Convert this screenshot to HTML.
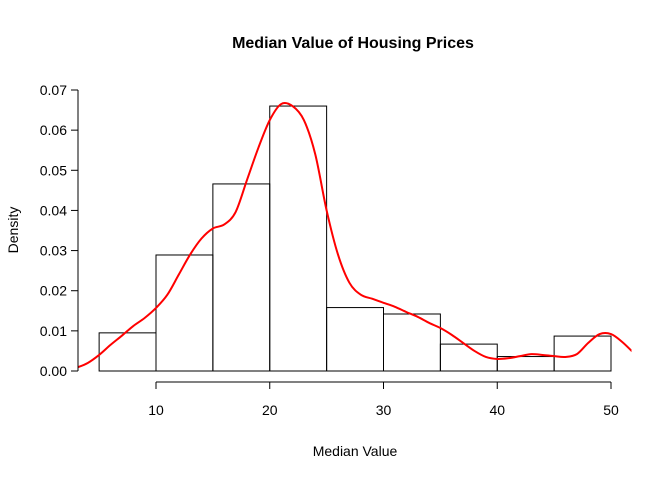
<!DOCTYPE html>
<html><head><meta charset="utf-8"><style>
body{margin:0;background:#fff}
svg text{font-family:"Liberation Sans",Arial,sans-serif;fill:#000}
</style></head><body>
<svg id="chart" width="672" height="480" xmlns="http://www.w3.org/2000/svg">
<defs><clipPath id="clip"><rect x="78.5" y="60" width="553" height="330"/></clipPath></defs>
<text x="353" y="48" font-size="16" font-weight="bold" text-anchor="middle">Median Value of Housing Prices</text>
<text x="355" y="456" font-size="14" text-anchor="middle">Median Value</text>
<text transform="translate(18,230) rotate(-90)" font-size="14" text-anchor="middle">Density</text>
<g id="bars"></g><g id="axes"></g><g id="curve" clip-path="url(#clip)"></g>
</svg>
<script>
const binEdges=[5,10,15,20,25,30,35,40,45,50];
const binDensity=[0.0095,0.0289,0.0466,0.0660,0.0158,0.0142,0.0067,0.0036,0.0087];
const xTicks=[10,20,30,40,50];
const yTicks=[0,0.01,0.02,0.03,0.04,0.05,0.06,0.07];
const yTickLabels=["0.00","0.01","0.02","0.03","0.04","0.05","0.06","0.07"];
const densX=[3,4,5,6,7,8,9,10,11,12,13,14,15,16,17,18,19,20,21,22,23,24,25,26,27,28,29,30,31,32,33,34,35,36,37,38,39,40,41,42,43,44,45,46,47,48,49,50,51,52,53];
const densY=[0.0008,0.002,0.004,0.0065,0.0088,0.0112,0.0132,0.0157,0.019,0.024,0.029,0.033,0.0355,0.0365,0.0396,0.0476,0.0556,0.0625,0.0665,0.066,0.0625,0.054,0.040,0.029,0.022,0.019,0.018,0.017,0.016,0.0147,0.0135,0.012,0.0107,0.009,0.007,0.005,0.0035,0.003,0.0032,0.0037,0.0042,0.004,0.0037,0.0035,0.0042,0.007,0.0092,0.0092,0.0072,0.0045,0.002];
const NS="http://www.w3.org/2000/svg";
const sx=v=>42.25+v*11.375, sy=v=>371-v*4014.3;
function mk(t,a,p){const e=document.createElementNS(NS,t);for(const k in a)e.setAttribute(k,a[k]);p.appendChild(e);return e;}
const bars=document.getElementById('bars');
binDensity.forEach((d,i)=>{
 const r=mk('rect',{x:sx(binEdges[i]),y:sy(d),width:sx(binEdges[i+1])-sx(binEdges[i]),height:sy(0)-sy(d),fill:'none',stroke:'#000','stroke-width':1},bars);
 
 
});
const ax=document.getElementById('axes');
const xl=mk('line',{x1:sx(xTicks[0]),x2:sx(xTicks[xTicks.length-1]),y1:382,y2:382,stroke:'#000'},ax);


xTicks.forEach(v=>{
 mk('line',{x1:sx(v),x2:sx(v),y1:382,y2:389,stroke:'#000'},ax);
 const t=mk('text',{x:sx(v),y:415,'font-size':14,'text-anchor':'middle'},ax);t.textContent=v;
 
 
});
const yl=mk('line',{x1:78,x2:78,y1:sy(yTicks[0]),y2:sy(yTicks[yTicks.length-1]),stroke:'#000'},ax);


yTicks.forEach((v,i)=>{
 mk('line',{x1:71,x2:78,y1:sy(v),y2:sy(v),stroke:'#000'},ax);
 const t=mk('text',{x:67,y:sy(v)+5,'font-size':14,'text-anchor':'end'},ax);t.textContent=yTickLabels[i];
 
 
});
const P=densX.map((x,i)=>[sx(x),sy(densY[i])]);
let d='M'+P[0][0]+','+P[0][1];
for(let i=0;i<P.length-1;i++){
 const p0=P[i-1]||P[i],p1=P[i],p2=P[i+1],p3=P[i+2]||P[i+1];
 d+=` C${p1[0]+(p2[0]-p0[0])/6},${p1[1]+(p2[1]-p0[1])/6} ${p2[0]-(p3[0]-p1[0])/6},${p2[1]-(p3[1]-p1[1])/6} ${p2[0]},${p2[1]}`;
}
const c=mk('path',{d:d,fill:'none',stroke:'#ff0000','stroke-width':2},document.getElementById('curve'));


</script>
</body></html>
